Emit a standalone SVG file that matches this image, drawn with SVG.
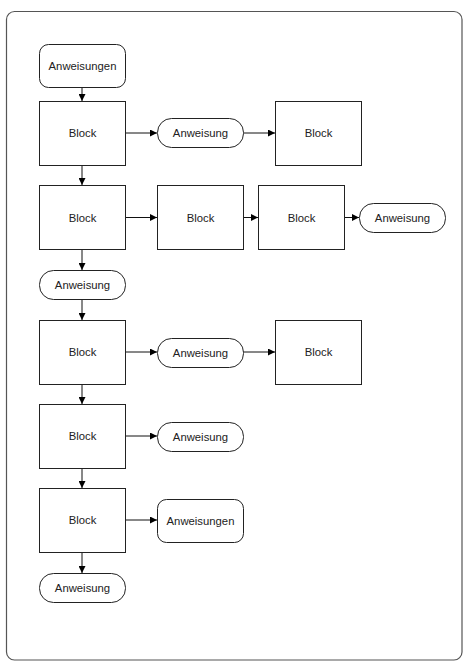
<svg xmlns="http://www.w3.org/2000/svg" width="473" height="672" viewBox="0 0 473 672">
<defs>
<marker id="ah" viewBox="0 0 7 7" refX="7" refY="3.5" markerWidth="7" markerHeight="7" markerUnits="userSpaceOnUse" orient="auto">
<path d="M0,0 L7,3.5 L0,7 Z" fill="#000"/>
</marker>
<style>
.box{fill:#fff;stroke:#222;stroke-width:1}
.lbl{font-family:"Liberation Sans",Arial,sans-serif;font-size:11.3px;fill:#222;text-anchor:middle;dominant-baseline:central}
.c{stroke:#111;stroke-width:1;fill:none;marker-end:url(#ah)}
</style>
</defs>
<rect width="473" height="672" fill="#fff"/>
<rect x="6.5" y="11.5" width="455.5" height="648.5" rx="8" fill="#fff" stroke="#555" stroke-width="1.2"/>
<g id="connectors">
<path class="c" d="M82,87 V101"/>
<path class="c" d="M82,165 V185"/>
<path class="c" d="M82,250 V270"/>
<path class="c" d="M82,299 V320"/>
<path class="c" d="M82,384 V404"/>
<path class="c" d="M82,468 V488"/>
<path class="c" d="M82,552 V573"/>
<path class="c" d="M125,133 H157"/>
<path class="c" d="M243,133 H275"/>
<path class="c" d="M125,217.5 H157"/>
<path class="c" d="M243,217.5 H258"/>
<path class="c" d="M344,217.5 H359"/>
<path class="c" d="M125,352 H157"/>
<path class="c" d="M243,352 H275"/>
<path class="c" d="M125,436 H157"/>
<path class="c" d="M125,520 H157"/>
</g>
<g id="n1"><rect class="box" x="39.5" y="44.5" width="86" height="43" rx="9"/><text class="lbl" x="82.5" y="66">Anweisungen</text></g>
<g id="n2"><rect class="box" x="39.5" y="101.5" width="86" height="64"/><text class="lbl" x="82.5" y="133">Block</text></g>
<g id="n3"><rect class="box" x="157.5" y="118.5" width="86" height="29" rx="14"/><text class="lbl" x="200.5" y="133">Anweisung</text></g>
<g id="n4"><rect class="box" x="275.5" y="101.5" width="86" height="64"/><text class="lbl" x="318.5" y="133">Block</text></g>
<g id="n5"><rect class="box" x="39.5" y="185.5" width="86" height="64"/><text class="lbl" x="82.5" y="217.5">Block</text></g>
<g id="n6"><rect class="box" x="157.5" y="185.5" width="86" height="64"/><text class="lbl" x="200.5" y="217.5">Block</text></g>
<g id="n7"><rect class="box" x="258.5" y="185.5" width="86" height="64"/><text class="lbl" x="301.5" y="217.5">Block</text></g>
<g id="n8"><rect class="box" x="359.5" y="203.5" width="86" height="29" rx="14"/><text class="lbl" x="402.5" y="218">Anweisung</text></g>
<g id="n9"><rect class="box" x="39.5" y="270.5" width="86" height="29" rx="14"/><text class="lbl" x="82.5" y="285">Anweisung</text></g>
<g id="n10"><rect class="box" x="39.5" y="320.5" width="86" height="64"/><text class="lbl" x="82.5" y="352">Block</text></g>
<g id="n11"><rect class="box" x="157.5" y="338.5" width="86" height="29" rx="14"/><text class="lbl" x="200.5" y="353">Anweisung</text></g>
<g id="n12"><rect class="box" x="275.5" y="320.5" width="86" height="64"/><text class="lbl" x="318.5" y="352">Block</text></g>
<g id="n13"><rect class="box" x="39.5" y="404.5" width="86" height="64"/><text class="lbl" x="82.5" y="436">Block</text></g>
<g id="n14"><rect class="box" x="157.5" y="422.5" width="86" height="29" rx="14"/><text class="lbl" x="200.5" y="437">Anweisung</text></g>
<g id="n15"><rect class="box" x="39.5" y="488.5" width="86" height="64"/><text class="lbl" x="82.5" y="520">Block</text></g>
<g id="n16"><rect class="box" x="157.5" y="499.5" width="86" height="43" rx="9"/><text class="lbl" x="200.5" y="521">Anweisungen</text></g>
<g id="n17"><rect class="box" x="39.5" y="573.5" width="86" height="29" rx="14"/><text class="lbl" x="82.5" y="588">Anweisung</text></g>
</svg>
